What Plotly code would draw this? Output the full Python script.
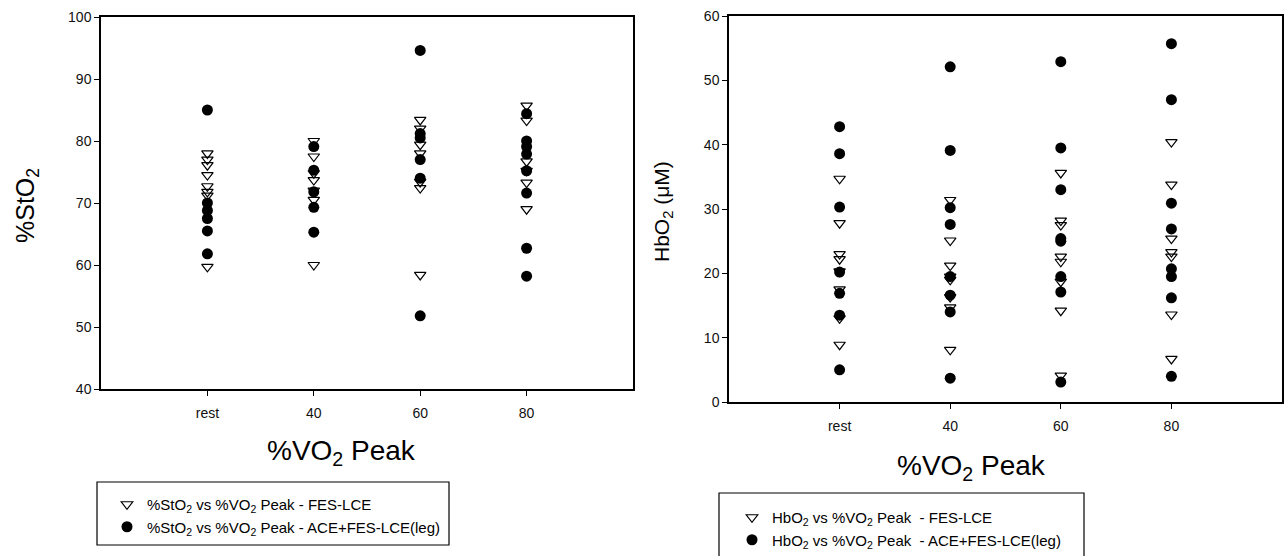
import plotly.graph_objects as go

# ---------------- data ----------------
x_levels = [20, 40, 60, 80]
x_labels = ["rest", "40", "60", "80"]

# %StO2 (left panel)
sto2_fes_rest = [78.0, 77.0, 76.1, 74.5, 72.7, 71.8, 71.2, 59.7]
sto2_fes_40 = [80.0, 77.5, 74.8, 73.7, 72.0, 70.5, 60.0]
sto2_fes_60 = [83.4, 82.0, 79.4, 78.0, 73.4, 72.4, 58.4]
sto2_fes_80 = [85.7, 83.3, 76.7, 75.2, 73.3, 69.0]

sto2_ace_rest = [85.0, 70.0, 68.8, 67.5, 65.5, 61.8]
sto2_ace_40 = [79.1, 75.3, 71.8, 69.3, 65.3]
sto2_ace_60 = [94.6, 81.2, 80.5, 77.0, 74.0, 51.8]
sto2_ace_80 = [84.4, 80.0, 79.1, 77.9, 75.2, 71.6, 62.7, 58.2]

# HbO2 (right panel)
hbo2_fes_rest = [34.7, 27.8, 23.0, 22.2, 20.3, 17.5, 13.0, 8.9]
hbo2_fes_40 = [31.4, 25.1, 21.2, 19.5, 19.0, 16.3, 14.7, 8.1]
hbo2_fes_60 = [35.6, 28.2, 27.5, 22.6, 21.8, 18.7, 14.2, 4.1]
hbo2_fes_80 = [40.4, 33.8, 25.4, 23.3, 22.6, 13.6, 6.7]

hbo2_ace_rest = [42.8, 38.6, 30.3, 20.2, 16.9, 13.5, 5.0]
hbo2_ace_40 = [52.1, 39.1, 30.2, 27.6, 19.5, 16.6, 14.0, 3.7]
hbo2_ace_60 = [52.9, 39.5, 33.0, 25.4, 25.0, 19.5, 17.1, 3.1]
hbo2_ace_80 = [55.7, 47.0, 30.9, 26.9, 20.7, 19.5, 16.2, 4.0]


def flatten(groups):
    xs, ys = [], []
    for lvl, vals in zip(x_levels, groups):
        xs += [lvl] * len(vals)
        ys += vals
    return xs, ys


FONT = "Liberation Sans, Arial, sans-serif"

fig = go.Figure()

tri = dict(symbol="triangle-down-open", size=10, color="black", line=dict(color="black", width=1.2))
dot = dict(symbol="circle", size=11, color="black", line=dict(color="black", width=0))

x, y = flatten([sto2_fes_rest, sto2_fes_40, sto2_fes_60, sto2_fes_80])
fig.add_trace(go.Scatter(x=x, y=y, mode="markers", marker=tri, xaxis="x", yaxis="y",
                         name="%StO<sub>2</sub> vs %VO<sub>2</sub> Peak - FES-LCE", legend="legend"))
x, y = flatten([sto2_ace_rest, sto2_ace_40, sto2_ace_60, sto2_ace_80])
fig.add_trace(go.Scatter(x=x, y=y, mode="markers", marker=dot, xaxis="x", yaxis="y",
                         name="%StO<sub>2</sub> vs %VO<sub>2</sub> Peak - ACE+FES-LCE(leg)", legend="legend"))

x, y = flatten([hbo2_fes_rest, hbo2_fes_40, hbo2_fes_60, hbo2_fes_80])
fig.add_trace(go.Scatter(x=x, y=y, mode="markers", marker=tri, xaxis="x2", yaxis="y2",
                         name="HbO<sub>2</sub> vs %VO<sub>2</sub> Peak  - FES-LCE", legend="legend2"))
x, y = flatten([hbo2_ace_rest, hbo2_ace_40, hbo2_ace_60, hbo2_ace_80])
fig.add_trace(go.Scatter(x=x, y=y, mode="markers", marker=dot, xaxis="x2", yaxis="y2",
                         name="HbO<sub>2</sub> vs %VO<sub>2</sub> Peak  - ACE+FES-LCE(leg)", legend="legend2"))

W, H = 1284, 556


def px_x(p):
    return p / W


def px_y(p):
    return 1 - p / H


axis_common = dict(showline=True, linecolor="black", linewidth=1.5, mirror=True,
                   ticks="outside", ticklen=5, tickcolor="black", tickwidth=1,
                   showgrid=False, zeroline=False, automargin=False,
                   tickfont=dict(family=FONT, size=14, color="#111"))

legend_common = dict(xanchor="left", yanchor="top", bgcolor="rgba(0,0,0,0)", borderwidth=0,
                     itemsizing="trace", tracegroupgap=0,
                     font=dict(family=FONT, size=15, color="black"))

fig.update_layout(
    width=W, height=H,
    margin=dict(l=0, r=0, t=0, b=0),
    paper_bgcolor="white", plot_bgcolor="white",
    xaxis=dict(domain=[px_x(101), px_x(633)], range=[0, 100], tickvals=x_levels, ticktext=x_labels,
               anchor="y", ticklabelstandoff=5, **axis_common),
    yaxis=dict(domain=[px_y(389), px_y(17)], range=[40, 100], dtick=10, anchor="x", **axis_common),
    xaxis2=dict(domain=[px_x(729), px_x(1282)], range=[0, 100], tickvals=x_levels, ticktext=x_labels,
                anchor="y2", ticklabelstandoff=5, **axis_common),
    yaxis2=dict(domain=[px_y(402), px_y(16)], range=[0, 60], dtick=10, anchor="x2", **axis_common),
    legend=dict(x=px_x(107), y=px_y(488), **legend_common),
    legend2=dict(x=px_x(732), y=px_y(501), **legend_common),
    shapes=[
        dict(type="rect", xref="paper", yref="paper", x0=px_x(97), x1=px_x(449),
             y0=px_y(545), y1=px_y(482), line=dict(color="black", width=1.2)),
        dict(type="rect", xref="paper", yref="paper", x0=px_x(719), x1=px_x(1084),
             y0=px_y(565), y1=px_y(493), line=dict(color="black", width=1.2)),
    ],
    annotations=[
        dict(text="%VO<sub>2</sub> Peak", x=px_x(341), y=px_y(452), xref="paper", yref="paper",
             xanchor="center", yanchor="middle",
             showarrow=False, font=dict(family=FONT, size=28, color="black")),
        dict(text="%VO<sub>2</sub> Peak", x=px_x(971), y=px_y(467), xref="paper", yref="paper",
             xanchor="center", yanchor="middle",
             showarrow=False, font=dict(family=FONT, size=28, color="black")),
        dict(text="%StO<sub>2</sub>", x=px_x(27), y=px_y(206), xref="paper", yref="paper",
             xanchor="center", yanchor="middle",
             showarrow=False, textangle=-90, font=dict(family=FONT, size=25, color="black")),
        dict(text="HbO<sub>2</sub> (μM)", x=px_x(663), y=px_y(212), xref="paper", yref="paper",
             xanchor="center", yanchor="middle",
             showarrow=False, textangle=-90, font=dict(family=FONT, size=21, color="black")),
    ],
    showlegend=True,
)

fig.write_html("out.html", config={"displayModeBar": False},
               post_script="document.body.style.margin='0';document.body.style.overflow='hidden';")
